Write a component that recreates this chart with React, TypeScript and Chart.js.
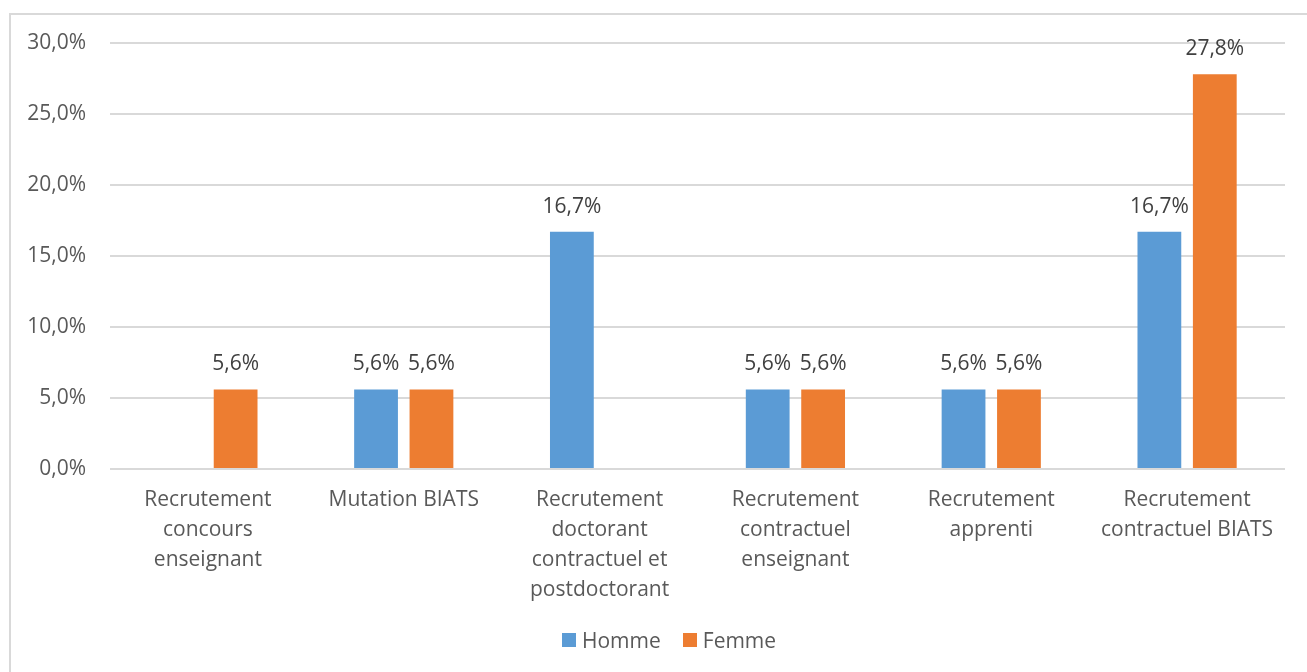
import React, { useEffect, useRef } from "react";
import { Chart, registerables } from "chart.js";

Chart.register(...registerables);

const categories: (string | string[])[] = [
  ["Recrutement", "concours", "enseignant"],
  "Mutation BIATS",
  ["Recrutement", "doctorant", "contractuel et", "postdoctorant"],
  ["Recrutement", "contractuel", "enseignant"],
  ["Recrutement", "apprenti"],
  ["Recrutement", "contractuel BIATS"],
];
const hommeValues = [0, 5.6, 16.7, 5.6, 5.6, 16.7];
const femmeValues = [5.6, 5.6, 0, 5.6, 5.6, 27.8];
const seriesNames = ["Homme", "Femme"];
const seriesColors = ["#5B9BD5", "#ED7D31"];
const yMin = 0;
const yMax = 30;
const yStep = 5;

const FONT = "'Open Sans', Lato, sans-serif";
const TEXT = "#595959";
const FS = 21;

const fmt = (v: number) => v.toFixed(1).replace(".", ",") + "%";

const labelPlugin = {
  id: "valueLabels",
  afterDatasetsDraw(chart: any) {
    const ctx = chart.ctx;
    ctx.save();
    ctx.font = `${FS}px ${FONT}`;
    ctx.fillStyle = "#404040";
    ctx.textAlign = "center";
    ctx.textBaseline = "middle";
    chart.data.datasets.forEach((ds: any, i: number) => {
      const meta = chart.getDatasetMeta(i);
      meta.data.forEach((el: any, j: number) => {
        const v = ds.data[j];
        if (v && v > 0) ctx.fillText(fmt(v), el.x, el.y - 25);
      });
    });
    ctx.restore();
  },
};

export default function App() {
  const ref = useRef<HTMLCanvasElement>(null);
  useEffect(() => {
    if (!ref.current) return;
    const chart = new Chart(ref.current, {
      type: "bar",
      data: {
        labels: categories,
        datasets: [
          { label: seriesNames[0], data: hommeValues, backgroundColor: seriesColors[0], categoryPercentage: 0.566, barPercentage: 0.79 },
          { label: seriesNames[1], data: femmeValues, backgroundColor: seriesColors[1], categoryPercentage: 0.566, barPercentage: 0.79 },
        ],
      },
      options: {
        responsive: false,
        animation: false,
        devicePixelRatio: 1,
        layout: { padding: { top: 43, right: 22, left: 0, bottom: 0 } },
        plugins: { legend: { display: false }, tooltip: { enabled: false } },
        scales: {
          x: {
            grid: { display: false },
            border: { display: false },
            ticks: {
              color: TEXT,
              font: { family: FONT, size: FS, lineHeight: 30 / FS },
              maxRotation: 0,
              autoSkip: false,
              padding: 8,
            },
            afterFit: (s: any) => {
              s.height = 203;
            },
          },
          y: {
            min: yMin,
            max: yMax,
            grid: { color: "#d9d9d9", lineWidth: 2, drawTicks: false },
            border: { display: false },
            ticks: {
              stepSize: yStep,
              color: TEXT,
              font: { family: FONT, size: FS },
              padding: 24,
              callback: (v: any) => fmt(Number(v)),
            },
            afterFit: (s: any) => {
              s.width = 110;
            },
          },
        },
      },
      plugins: [labelPlugin],
    });
    return () => chart.destroy();
  }, []);

  const legendItem = (name: string, color: string) => (
    <div style={{ display: "flex", alignItems: "center", marginRight: 22 }}>
      <span style={{ display: "inline-block", width: 14, height: 14, background: color, marginRight: 6 }} />
      <span>{name}</span>
    </div>
  );

  return (
    <div style={{ position: "fixed", left: 0, top: 0, width: 1307, height: 672, background: "#fff", overflow: "hidden" }}>
      <div
        style={{
          position: "absolute",
          left: 9,
          top: 13,
          width: 1400,
          height: 800,
          border: "2px solid #d9d9d9",
          boxSizing: "border-box",
        }}
      />
      <canvas ref={ref} width={1307} height={672} style={{ position: "absolute", left: 0, top: 0, width: 1307, height: 672 }} />
      <div
        style={{
          position: "absolute",
          left: 562,
          top: 626,
          display: "flex",
          fontFamily: FONT,
          fontSize: FS,
          color: TEXT,
          lineHeight: "28px",
        }}
      >
        {legendItem(seriesNames[0], seriesColors[0])}
        {legendItem(seriesNames[1], seriesColors[1])}
      </div>
    </div>
  );
}
